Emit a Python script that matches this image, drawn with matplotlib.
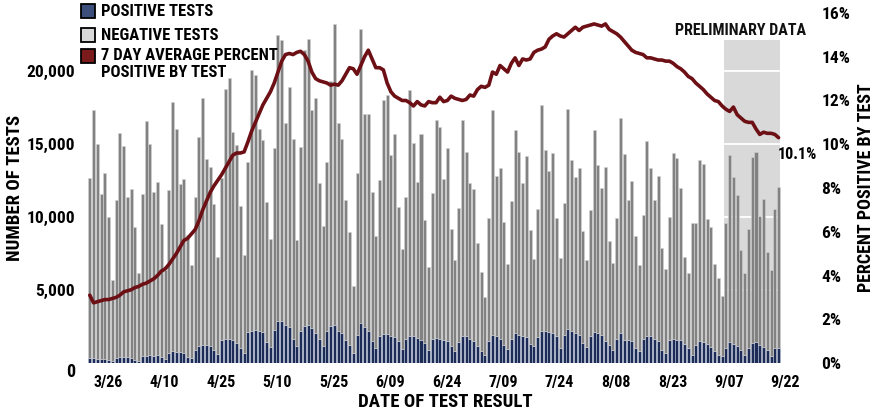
import numpy as np
import pandas as pd
import matplotlib
matplotlib.use("Agg")
import matplotlib.pyplot as plt
import matplotlib.transforms as mtransforms
from matplotlib.patches import Rectangle
from matplotlib import font_manager

# pick a condensed bold font if one is installed
names = {f.name for f in font_manager.fontManager.ttflist}
FONT = "DejaVu Sans"
for cand in ["Roboto Condensed", "Liberation Sans Narrow", "DejaVu Sans Condensed"]:
    if cand in names:
        FONT = cand
        break
plt.rcParams["font.family"] = [FONT, "DejaVu Sans"]
plt.rcParams["font.weight"] = "bold"

# ---- data (daily, from 3/22) ----
start_date = "2020-03-22"

total_tests = [
    12720, 17380, 15050, 11620, 13040, 9980, 5690,
    11170, 15800, 14860, 11390, 11920, 9340, 6140,
    11580, 16600, 15000, 11740, 12420, 9520, 6400,
    11850, 17900, 16070, 12260, 12650, 8800, 6710,
    11350, 15500, 18200, 14020, 13450, 10890, 7240,
    12720, 18770, 19570, 15850, 14930, 10760, 7400,
    13770, 20120, 19730, 16080, 15320, 11050, 8470,
    14750, 22470, 22170, 16460, 18930, 15390, 8430,
    14820, 21490, 22240, 17330, 18200, 12310, 9390,
    13790, 19340, 23270, 16460, 15390, 11170, 9000,
    5280, 13040, 22920, 17060, 17060, 11740, 8700,
    12580, 18020, 18360, 14250, 15730, 10710, 7790,
    11400, 18700, 15090, 12420, 15730, 9840, 6600,
    11670, 16650, 16190, 12650, 14710, 9160, 7060,
    10600, 16690, 14480, 12310, 11900, 8200, 6260,
    4500, 9910, 17380, 12810, 13400, 9680, 6780,
    11120, 15960, 14480, 12310, 14180, 9110, 7100,
    10530, 17670, 14590, 13180, 14410, 9910, 7170,
    10940, 17450, 13950, 12770, 13340, 9070, 7060,
    10480, 16010, 13560, 11970, 13450, 8380, 6880,
    9910, 16830, 14360, 11170, 12490, 8700, 6720,
    10140, 15230, 13340, 11170, 12810, 7860, 6420,
    10030, 14410, 14090, 11970, 7240, 6140, 9570,
    9570, 13910, 13680, 9840, 9340, 6780, 5800,
    4590, 9570, 14250, 12770, 11510, 7740, 6140,
    9160, 14140, 14480, 10090, 11280, 7630, 6370,
    10530, 12080,
]

positive_tests = [
    318, 318, 295, 272, 272, 227, 113,
    363, 386, 409, 386, 340, 227, 158,
    455, 500, 523, 500, 523, 409, 250,
    700, 800, 780, 760, 700, 420, 330,
    912, 1140, 1231, 1231, 1200, 912, 615,
    1596, 1665, 1665, 1596, 1368, 1026, 683,
    2144, 2213, 2236, 2167, 2122, 1437, 1094,
    2280, 2898, 2852, 2624, 2464, 1642, 1140,
    2213, 2510, 2601, 2396, 2053, 1642, 1186,
    2167, 2510, 2624, 2167, 2053, 1596, 1254,
    683, 1939, 2738, 2464, 2167, 1482, 1026,
    1825, 1984, 1984, 1870, 1779, 1482, 980,
    1642, 1870, 1825, 1711, 1596, 1368, 912,
    1642, 1711, 1665, 1596, 1482, 1140, 797,
    1414, 1870, 1825, 1642, 1482, 1140, 797,
    569, 1482, 1939, 1870, 1642, 1254, 957,
    1642, 2053, 1939, 1825, 1779, 1322, 1140,
    1756, 2213, 2167, 2099, 2053, 1825, 1026,
    1939, 2327, 2167, 2053, 1939, 1368, 1071,
    1825, 2099, 2053, 1939, 1482, 1254, 912,
    1642, 2053, 1596, 1551, 1482, 1026, 797,
    1642, 1870, 1825, 1642, 1482, 912, 683,
    1596, 1642, 1596, 1551, 1322, 1026, 569,
    1254, 1482, 1437, 1322, 1094, 797, 569,
    455, 1026, 1414, 1322, 1186, 866, 569,
    1026, 1368, 1414, 1254, 1094, 866, 500,
    1003, 1003,
]

pct_positive_7day = [
    3.1, 2.75, 2.8, 2.85, 2.9, 2.9, 2.95, 3.0, 3.1, 3.25,
    3.3, 3.35, 3.45, 3.5, 3.6, 3.65, 3.75, 3.85, 4.0, 4.2,
    4.3, 4.5, 4.75, 5.0, 5.3, 5.6, 5.7, 5.9, 6.1, 6.5,
    7.0, 7.4, 7.8, 8.1, 8.35, 8.6, 8.9, 9.2, 9.5, 9.6,
    9.6, 9.65, 10.1, 10.6, 11.0, 11.4, 11.8, 12.1, 12.4, 12.8,
    13.3, 13.8, 14.1, 14.15, 14.1, 14.2, 14.25, 14.1, 13.8, 13.3,
    13.0, 12.9, 12.85, 12.8, 12.7, 12.75, 12.7, 12.9, 13.2, 13.5,
    13.45, 13.2, 13.6, 14.0, 14.3, 13.9, 13.5, 13.5, 13.4, 12.8,
    12.4, 12.2, 12.1, 12.0, 12.0, 11.9, 11.75, 11.95, 11.8, 11.75,
    11.95, 11.9, 11.9, 12.15, 11.95, 12.0, 12.2, 12.1, 12.05, 12.0,
    12.05, 12.25, 12.2, 12.5, 12.65, 12.6, 12.7, 13.3, 13.2, 13.6,
    13.45, 13.3, 13.7, 13.95, 13.6, 13.9, 13.85, 13.9, 14.2, 14.3,
    14.35, 14.45, 14.8, 14.95, 15.05, 14.95, 14.9, 15.05, 15.2, 15.35,
    15.2, 15.35, 15.4, 15.45, 15.5, 15.45, 15.4, 15.5, 15.25, 15.15,
    15.05, 14.9, 14.7, 14.5, 14.3, 14.2, 14.15, 14.1, 13.95, 13.95,
    13.9, 13.85, 13.85, 13.8, 13.8, 13.7, 13.55, 13.45, 13.3, 13.1,
    13.0, 12.8, 12.65, 12.5, 12.3, 12.15, 12.0, 11.95, 11.75, 11.6,
    11.5, 11.7, 11.35, 11.2, 11.05, 11.0, 11.0, 10.7, 10.45, 10.55,
    10.5, 10.5, 10.45, 10.3,
]

tick_dates = ["2020-03-26", "2020-04-10", "2020-04-25", "2020-05-10", "2020-05-25",
              "2020-06-09", "2020-06-24", "2020-07-09", "2020-07-24", "2020-08-08",
              "2020-08-23", "2020-09-07", "2020-09-22"]
tick_labels = ["3/26", "4/10", "4/25", "5/10", "5/25", "6/09", "6/24",
               "7/09", "7/24", "8/08", "8/23", "9/07", "9/22"]
preliminary_days = 15
last_label = "10.1%"

total = np.array(total_tests)
pos = np.array(positive_tests)
neg = total - pos
x = np.arange(len(total))
t0 = pd.Timestamp(start_date)
tick_pos = [(pd.Timestamp(d) - t0).days for d in tick_dates]

W, H = 879, 413
fig = plt.figure(figsize=(W / 100, H / 100), dpi=100)
ax = fig.add_axes([86 / W, 50 / H, 702 / W, 350 / H])
ax2 = ax.twinx()

# preliminary shaded area
n = len(total)
ax.axvspan(n - preliminary_days - 0.5, n - 0.5, ymax=0.923, color="#d9d9d9", lw=0, zorder=0)
ax.text(n - preliminary_days + 4, 0.949 * 24000, "PRELIMINARY DATA", ha="center", va="center",
        fontsize=11.5, fontweight="bold", color="#111111")

ax.bar(x, pos, width=0.8, color="#1d2b57", edgecolor="#b8c2d6", linewidth=0.4, zorder=2)
ax.bar(x, neg, bottom=pos, width=0.8, color="#828282", edgecolor="#d2d2d2", linewidth=0.4, zorder=2)

ax2.plot(x, pct_positive_7day, color="#6d1016", lw=2.6, solid_capstyle="round", zorder=3)
ax2.text(x[-1] - 0.2, 9.55, last_label, ha="left", va="center", fontsize=11.5, fontweight="bold")

ax.set_xlim(-1, 185.5)
ax.set_ylim(0, 24000)
ax2.set_ylim(0, 16)

ax.set_yticks([5000, 10000, 15000, 20000])
ax.set_yticklabels([f"{v:,}" for v in [5000, 10000, 15000, 20000]])
ax2.set_yticks(range(0, 17, 2))
ax2.set_yticklabels([f"{v}%" for v in range(0, 17, 2)])
ax.set_xticks(tick_pos)
ax.set_xticklabels(tick_labels)

ax.set_axisbelow(True)
ax.yaxis.grid(True, color="white", lw=1.3)
for a in (ax, ax2):
    for s in a.spines.values():
        s.set_visible(False)
    a.tick_params(length=0)
ax.tick_params(axis="y", labelsize=12.5, pad=8)
ax.tick_params(axis="x", labelsize=11.5, pad=9)
ax2.tick_params(axis="y", labelsize=12.5, pad=24)

offset = mtransforms.ScaledTranslation(3 / 100, 0, fig.dpi_scale_trans)
for lbl in ax.get_xticklabels():
    lbl.set_transform(lbl.get_transform() + offset)

# zero label sits a bit lower than the others
fig.text(75 / W, 1 - 372 / H, "0", ha="right", va="center", fontsize=13, fontweight="bold")

fig.text(445 / W, 1 - 402 / H, "DATE OF TEST RESULT", ha="center", va="center",
         fontsize=13.5, fontweight="bold")
fig.text(15 / W, 1 - 188 / H, "NUMBER OF TESTS", ha="center", va="center", rotation=90,
         fontsize=13.5, fontweight="bold")
fig.text(866 / W, 1 - 188 / H, "PERCENT POSITIVE BY TEST", ha="center", va="center", rotation=90,
         fontsize=13, fontweight="bold")

# legend drawn by hand so the handle lines up with the first text line
legend_items = [("#3c4e7b", "POSITIVE TESTS", 11),
                ("#d9d9d9", "NEGATIVE TESTS", 35),
                ("#7a1a1c", "7 DAY AVERAGE PERCENT\nPOSITIVE BY TEST", 56)]
for color, label, yc in legend_items:
    fig.add_artist(Rectangle((81 / W, 1 - (yc + 7) / H), 14 / W, 14 / H, transform=fig.transFigure,
                             facecolor=color, edgecolor="black", lw=1.3))
    fig.text(101 / W, 1 - (yc - 7.5) / H, label, ha="left", va="top", fontsize=12,
             fontweight="bold", linespacing=1.12)

fig.savefig("out.png", dpi=100)
